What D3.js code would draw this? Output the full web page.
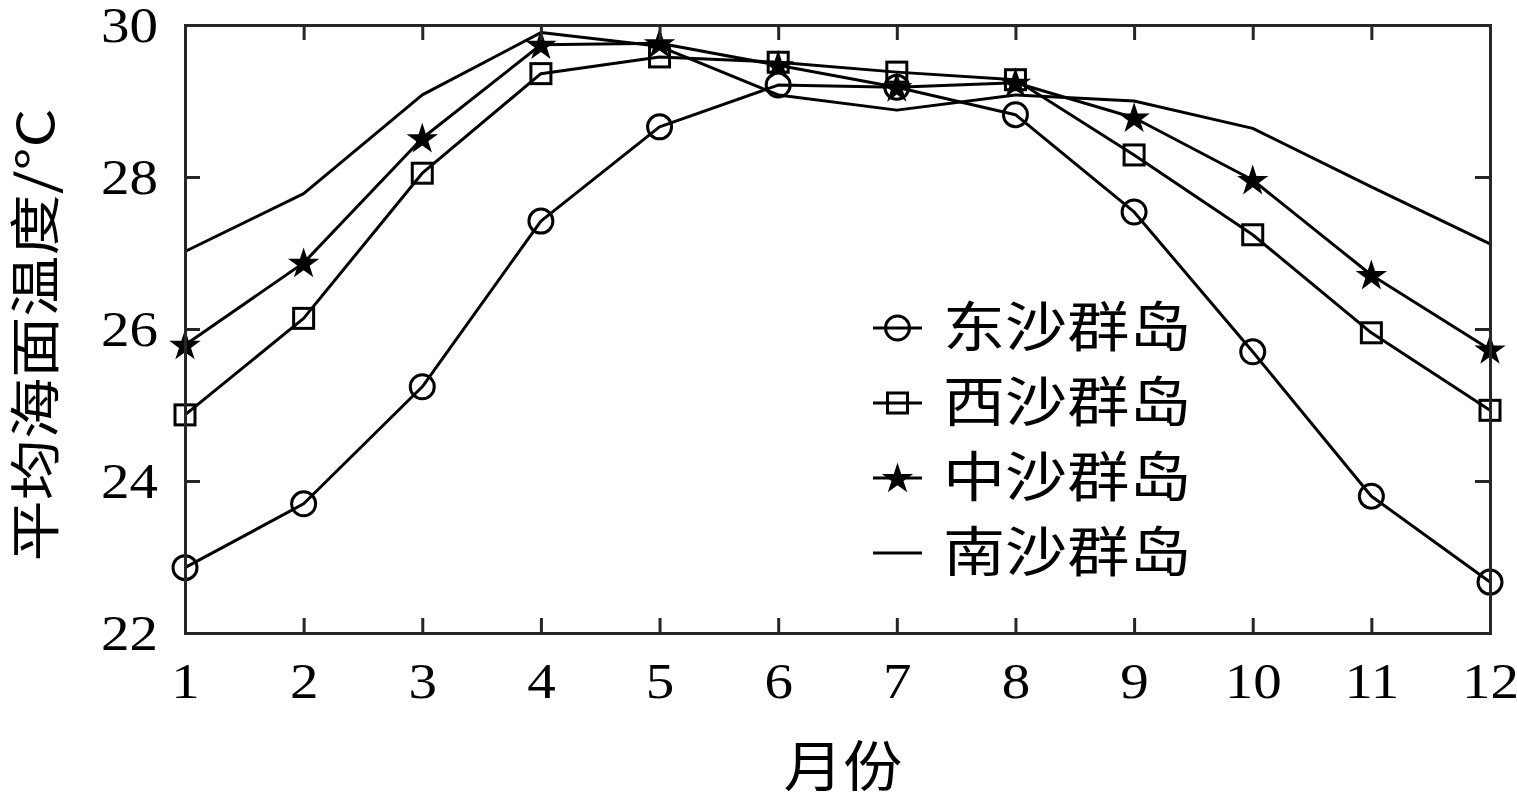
<!DOCTYPE html>
<html><head><meta charset="utf-8">
<script src="https://cdn.jsdelivr.net/npm/d3@7"></script>
<style>body{margin:0;background:#fff}svg{display:block}</style>
</head><body>
<script>
const months = [1,2,3,4,5,6,7,8,9,10,11,12];
const yTicks = [22,24,26,28,30];
const seriesNames = ["东沙群岛","西沙群岛","中沙群岛","南沙群岛"];
const dongsha = [22.86,23.70,25.24,27.42,28.66,29.21,29.18,28.82,27.54,25.70,23.80,22.67];
const xisha   = [24.87,26.14,28.05,29.36,29.58,29.51,29.38,29.28,28.29,27.24,25.95,24.93];
const zhongsha= [25.79,26.87,28.51,29.74,29.76,29.47,29.18,29.24,28.78,27.96,26.71,25.73];
const nansha  = [27.02,27.78,29.08,29.90,29.72,29.08,28.88,29.08,29.00,28.64,27.87,27.12];
const xTitle = "月份";
const yTitle = "平均海面温度/°C";

(function(){
const W=1517,H=801;
const L=185,R=1490,T=25,B=633;
const svg=d3.select("body").append("svg").attr("width",W).attr("height",H);
const x=d3.scaleLinear().domain([1,12]).range([L,R]);
const y=d3.scaleLinear().domain([22,30]).range([B,T]);
const axisColor="#262626";
const numFont="'Liberation Serif','Times New Roman',serif";
const cjkFont="'Noto Sans CJK SC','Liberation Serif',serif";
const SX=1.14;

const series=[
 {name:seriesNames[0],vals:dongsha,marker:"circle"},
 {name:seriesNames[1],vals:xisha,marker:"square"},
 {name:seriesNames[2],vals:zhongsha,marker:"star"},
 {name:seriesNames[3],vals:nansha,marker:"none"}
];

function starPath(R0){
  const r0=R0*0.382;let p="";
  for(let i=0;i<10;i++){const a=-Math.PI/2+i*Math.PI/5;const rr=i%2?r0:R0;
    p+=(i?"L":"M")+(rr*Math.cos(a)).toFixed(2)+","+(rr*Math.sin(a)).toFixed(2);}
  return p+"Z";
}
function drawMarker(g,type,cx,cy){
  if(type==="circle") g.append("circle").attr("cx",cx).attr("cy",cy).attr("r",12).attr("fill","none").attr("stroke","#000").attr("stroke-width",3);
  else if(type==="square") g.append("rect").attr("x",cx-10).attr("y",cy-10).attr("width",20).attr("height",20).attr("fill","none").attr("stroke","#000").attr("stroke-width",3);
  else if(type==="star") g.append("path").attr("d",starPath(16.5)).attr("transform",`translate(${cx},${cy+1})`).attr("fill","#000");
}

const line=d3.line().x((d,i)=>x(months[i])).y(d=>y(d));
const plot=svg.append("g");
series.forEach(s=>{
  plot.append("path").attr("d",line(s.vals)).attr("fill","none").attr("stroke","#000").attr("stroke-width",3).attr("stroke-linejoin","round");
});
series.forEach(s=>{
  s.vals.forEach((v,i)=>drawMarker(plot,s.marker,x(months[i]),y(v)));
});

const ax=svg.append("g");
const gBottom=ax.append("g").attr("transform",`translate(0,${B})`).call(d3.axisBottom(x).tickValues(months).tickSize(-15).tickPadding(30).tickFormat(d3.format("d")));
ax.append("g").attr("transform",`translate(0,${T})`).call(d3.axisTop(x).tickValues(months).tickSize(-15).tickFormat(""));
const gLeft=ax.append("g").attr("transform",`translate(${L},0)`).call(d3.axisLeft(y).tickValues(yTicks).tickSize(-15).tickPadding(27).tickFormat(d3.format("d")));
ax.append("g").attr("transform",`translate(${R},0)`).call(d3.axisRight(y).tickValues(yTicks).tickSize(-15).tickFormat(""));
ax.selectAll(".domain").attr("stroke",axisColor).attr("stroke-width",3);
ax.selectAll(".tick line").attr("stroke",axisColor).attr("stroke-width",3);
ax.selectAll(".tick text").attr("fill","#000").style("font-family",numFont).style("font-size","50px");
gBottom.selectAll(".tick text").attr("dy","0.71em").attr("transform",`scale(${SX},1)`);
gLeft.selectAll(".tick text").attr("dy","0.33em").attr("x",null).attr("transform",`translate(-27,0) scale(${SX},1)`);

svg.append("text").attr("transform",`translate(843,786) scale(1.08,1)`).attr("text-anchor","middle")
  .style("font-family",cjkFont).style("font-size","55px").text(xTitle);
svg.append("text").attr("transform",`translate(54,335) rotate(-90) scale(1.2,1)`).attr("text-anchor","middle")
  .style("font-family",cjkFont).style("font-size","51px").text(yTitle);

const lg=svg.append("g");
series.forEach((s,i)=>{
  const cy=328+i*75;
  lg.append("line").attr("x1",873).attr("x2",922).attr("y1",cy).attr("y2",cy).attr("stroke","#000").attr("stroke-width",3);
  drawMarker(lg,s.marker,897.5,cy);
  lg.append("text").attr("transform",`translate(943,${cy}) scale(1.15,1)`).attr("dy","0.36em").style("font-family",cjkFont).style("font-size","54px").text(s.name);
});
})();
</script>
</body></html>
